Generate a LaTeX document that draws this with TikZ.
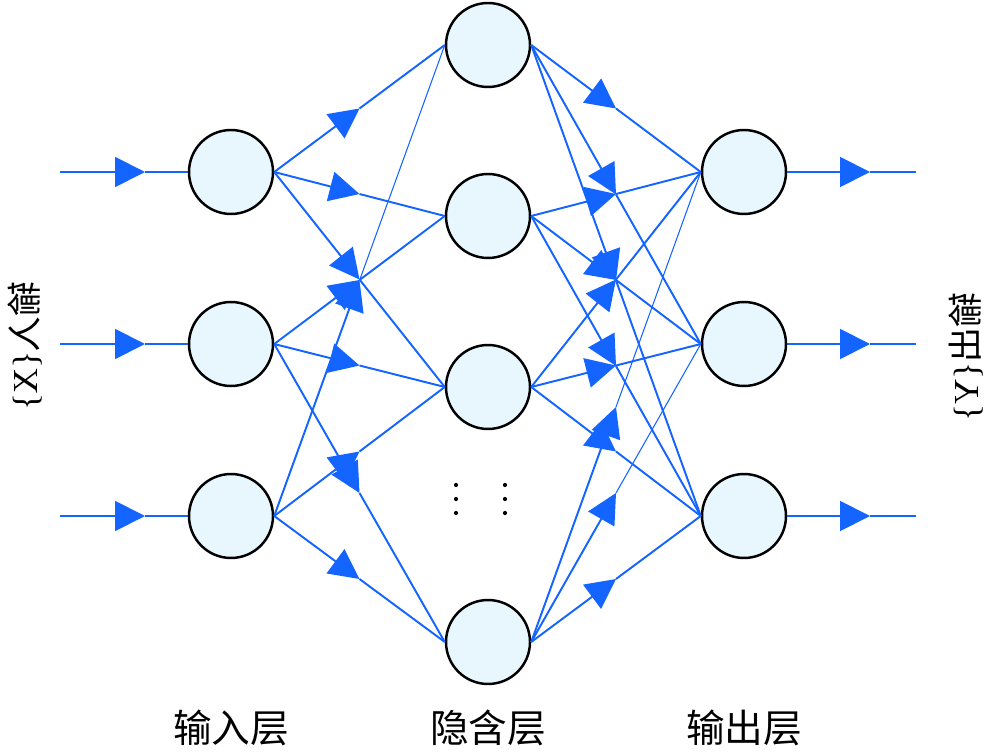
\documentclass[tikz,border=0pt]{standalone}
\usepackage{fontspec}
\setmainfont{Liberation Serif}
\newfontfamily\cjk{Noto Sans CJK SC}
\usetikzlibrary{arrows.meta,calc}
\definecolor{netblue}{RGB}{20,100,255}
\definecolor{cellfill}{RGB}{232,246,254}
\tikzset{
  neuron/.style={circle,draw=black,line width=1.4pt,fill=cellfill,minimum size=1.68cm,inner sep=0pt},
  link/.style={draw=netblue,line width=1.1pt},
  layername/.style={font=\fontsize{22}{26}\selectfont\cjk},
  sidename/.style={font=\fontsize{20}{24}\selectfont,cm={0,-1,-1,0,(0,0)}}
}
\begin{document}
\begin{tikzpicture}[x=0.02cm,y=-0.02cm,>={Triangle[length=17pt,width=17pt]},line join=round]
	\useasboundingbox (0,0) rectangle (1000,756);
	% neurons
	\foreach \k/\y in {1/172,2/344,3/516} {
		\node[neuron] (in\k) at (231,\y) {};
		\node[neuron] (out\k) at (744,\y) {};
		\coordinate (src\k) at (60,\y);
		\coordinate (srctip\k) at (145,\y);
		\coordinate (dsttip\k) at (870,\y);
		\coordinate (dst\k) at (916,\y);
	}
	\foreach \k/\y in {1/45,2/216,3/387,4/642}
		\node[neuron] (hid\k) at (488,\y) {};
	% inputs and outputs
	\foreach \k in {1,2,3} {
		\draw[link,->] (src\k) -- (srctip\k);
		\draw[link] (srctip\k) -- (in\k.west);
		\draw[link,->] (out\k.east) -- (dsttip\k);
		\draw[link] (dsttip\k) -- (dst\k);
	}
	% input -> hidden
	\foreach \i/\j/\w in {1/1/1.1pt,1/2/1.1pt,1/3/1.1pt,2/2/1.1pt,2/3/1.1pt,2/4/1.1pt,3/1/0.6pt,3/3/1.1pt,3/4/1.1pt} {
		\coordinate (m) at ($(in\i.east)!0.5!(hid\j.west)$);
		\draw[link,->] (in\i.east) -- (m);
		\draw[link,line width=\w] (m) -- (hid\j.west);
	}
	% hidden -> output
	\foreach \i/\j/\w in {1/1/1.1pt,1/2/1.1pt,1/3/1.1pt,2/1/1.1pt,2/2/1.1pt,2/3/1.1pt,3/1/1.1pt,3/2/1.1pt,3/3/1.1pt,4/1/0.6pt,4/2/0.6pt,4/3/1.1pt} {
		\coordinate (m) at ($(hid\i.east)!0.5!(out\j.west)$);
		\draw[link,->] (hid\i.east) -- (m);
		\draw[link,line width=\w] (m) -- (out\j.west);
	}
	% omitted hidden neurons
	\foreach \x in {456,505}
		\foreach \y in {485,499,513}
			\fill (\x,\y) circle[radius=1.2pt];
	% labels
	\node[layername] (inname) at (231,728) {输入层};
	\node[layername] (hidname) at (488,728) {隐含层};
	\node[layername] (outname) at (744,728) {输出层};
	\node[sidename] (xname) at (25,346) {{\cjk 输入}\{X\}};
	\node[sidename] (yname) at (966,357) {{\cjk 输出}\{Y\}};
\end{tikzpicture}
\end{document}
